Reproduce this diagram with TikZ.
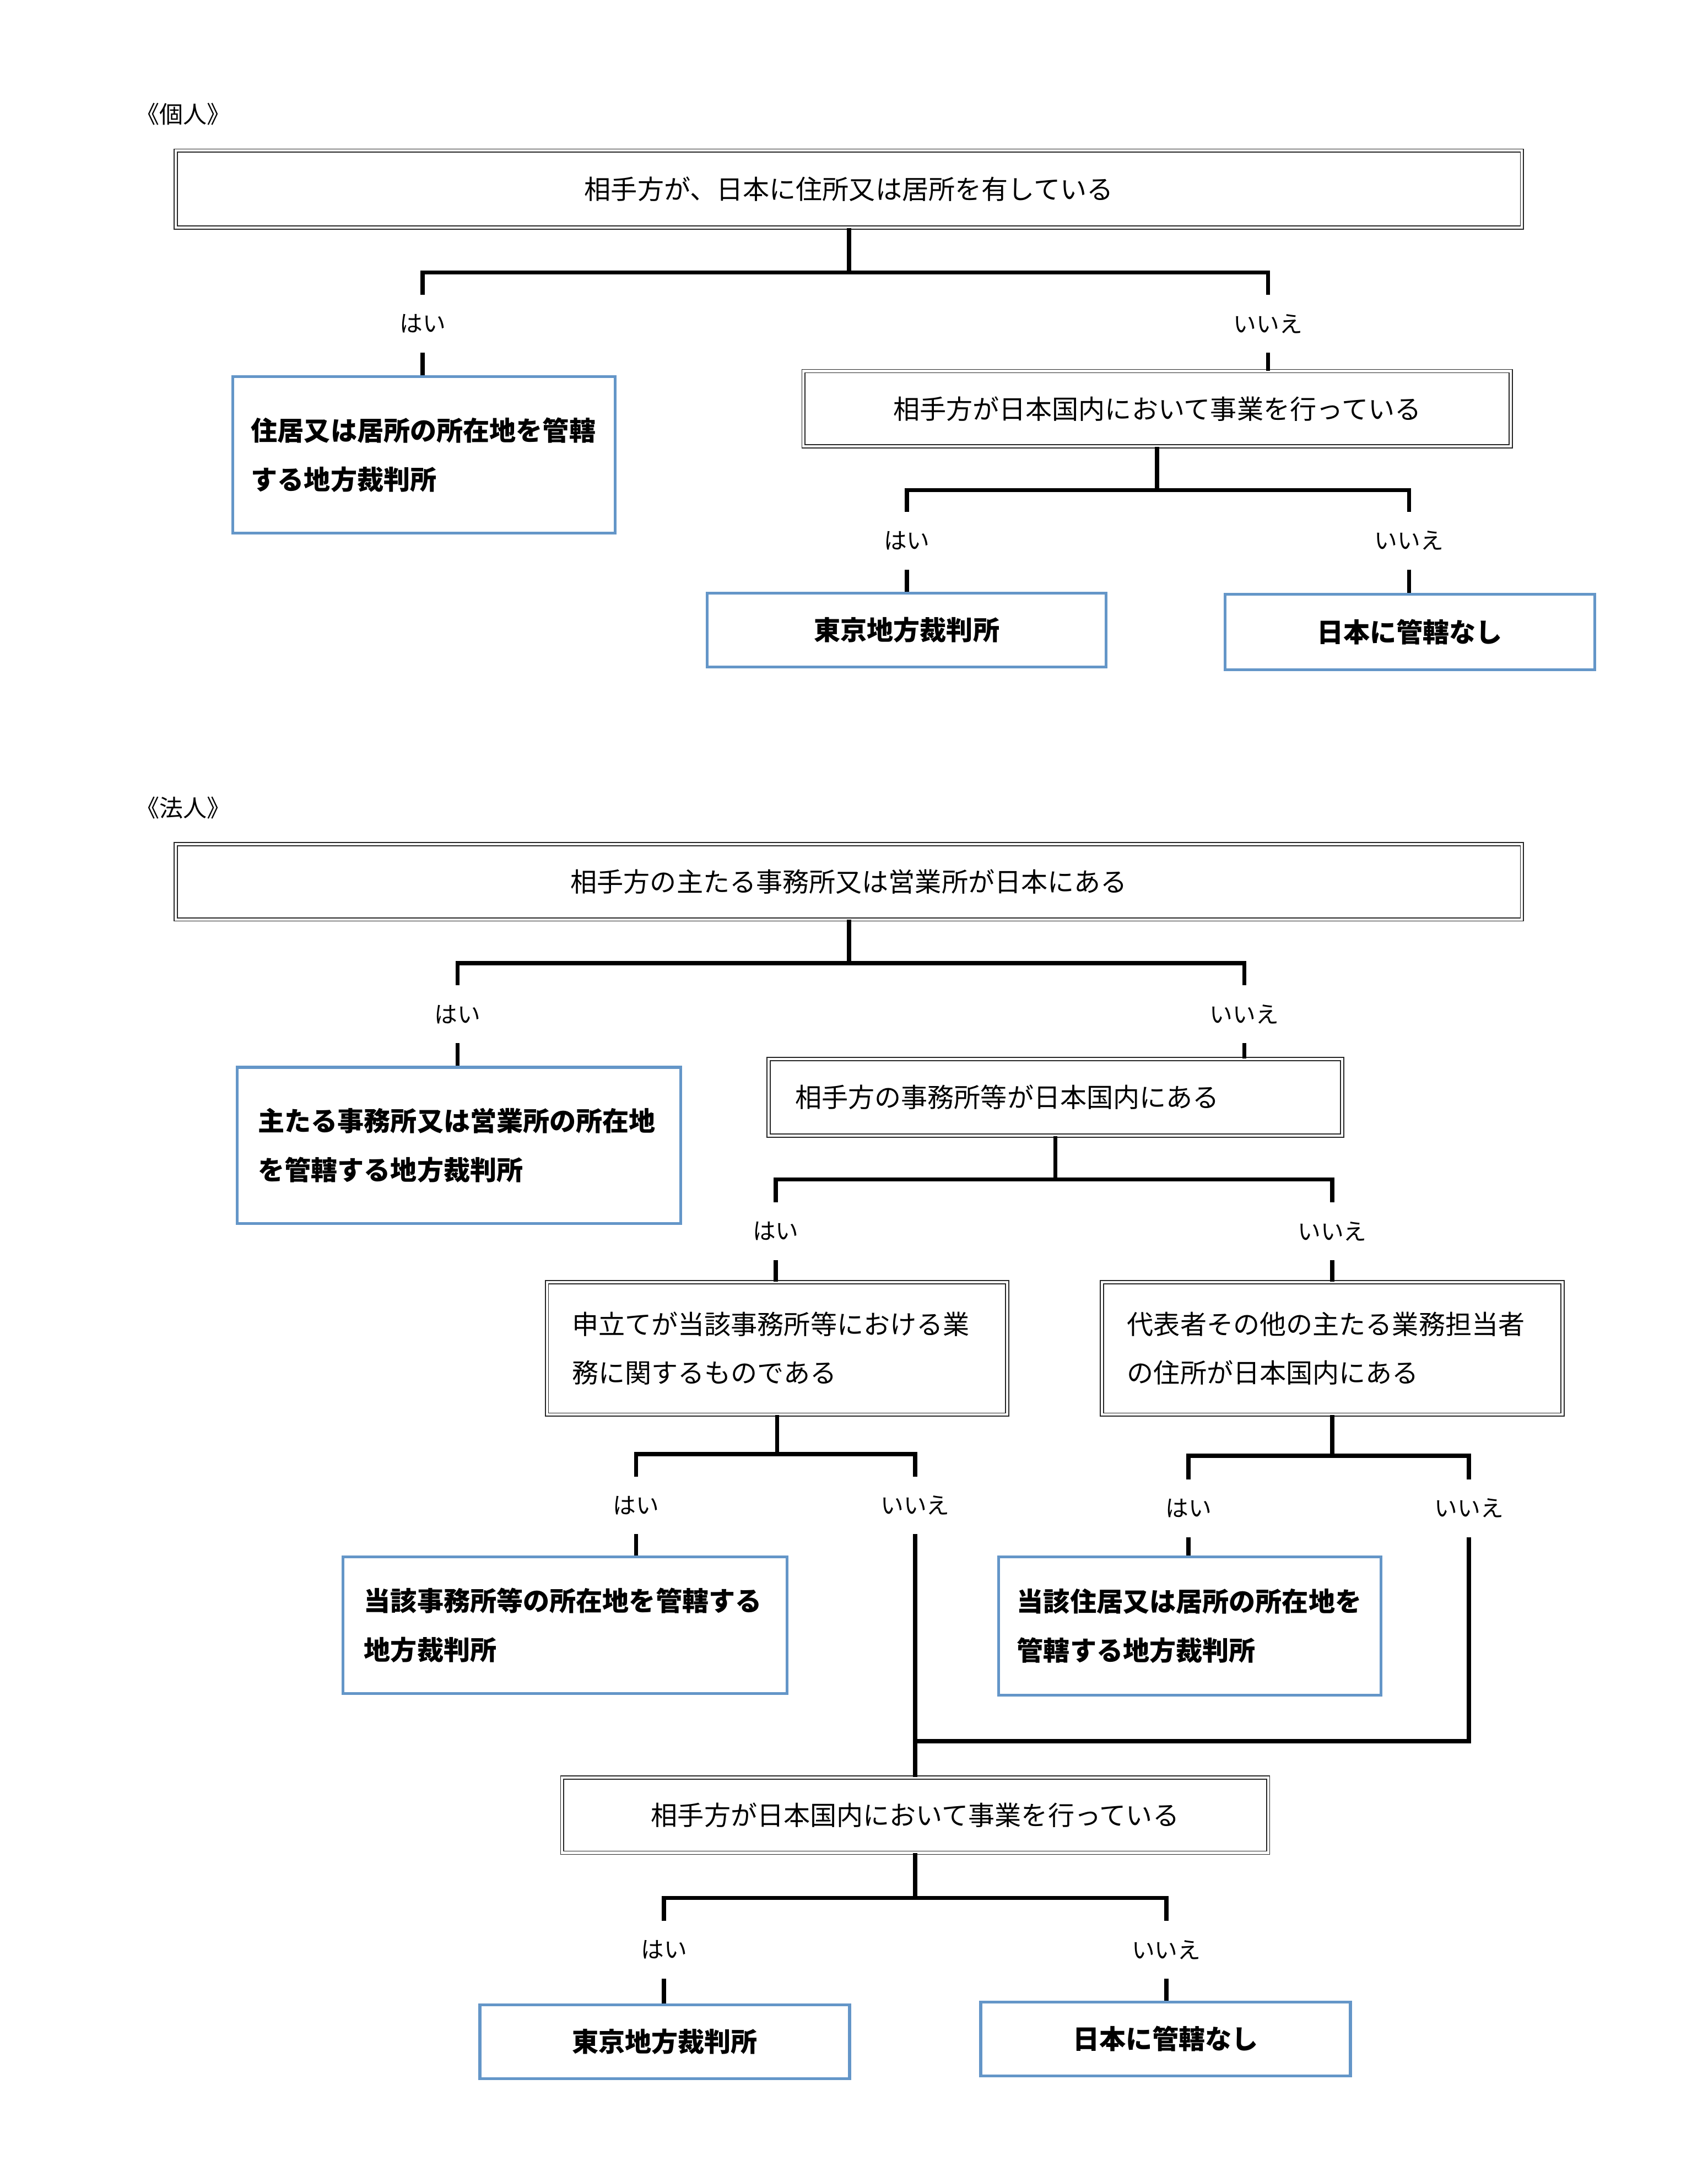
\documentclass[tikz,border=0pt]{standalone}
\usepackage{fontspec}
\setmainfont{Noto Sans CJK JP}
\usepackage{xcolor}
\usetikzlibrary{positioning}

\definecolor{boxblue}{RGB}{100,150,200}

\begin{document}
\begin{tikzpicture}[x=1pt, y=-1pt,
  ask/.style={draw=black!85, double, double distance=1.6pt, line width=0.7pt, inner sep=0pt,
    font=\fontsize{19}{35}\selectfont},
  court/.style={draw=boxblue, line width=2pt, inner sep=0pt,
    font=\fontsize{19}{35}\selectfont\bfseries},
  wh/.style 2 args={minimum width=#1pt, minimum height=#2pt},
  ans/.style={minimum height=41pt, inner sep=0pt, font=\fontsize{16.5}{20}\selectfont},
  head/.style={anchor=west, inner sep=0pt, font=\fontsize{17}{20}\selectfont},
  link/.style={line width=3pt}]
  \useasboundingbox (0,0) rectangle (1224,1564);

  % individual
  \node[head]                 (T1) at (97,82)        {《個人》};
  \node[ask,wh={965}{55}]     (Q1) at (608.5,135.5)  {相手方が、日本に住所又は居所を有している};
  \node[ans]                  (Y1) at (303,232)      {はい};
  \node[ans]                  (N1) at (909,232)      {いいえ};
  \node[court,wh={274}{112},align=left,inner xsep=13pt,text width=248pt]
                              (R1) at (304,326)      {住居又は居所の所在地を管轄\\する地方裁判所};
  \node[ask,wh={507}{54}]     (Q2) at (829.5,293)    {相手方が日本国内において事業を行っている};
  \node[ans]                  (Y2) at (650,387.5)    {はい};
  \node[ans]                  (N2) at (1010,387.5)   {いいえ};
  \node[court,wh={286}{53}]   (R2) at (650,451.5)    {東京地方裁判所};
  \node[court,wh={265}{54}]   (R3) at (1010.5,453)   {日本に管轄なし};

  % corporation
  \node[head]                 (T2) at (97,579)       {《法人》};
  \node[ask,wh={965}{54}]     (Q3) at (608.5,632)    {相手方の主たる事務所又は営業所が日本にある};
  \node[ans]                  (Y3) at (328,727)      {はい};
  \node[ans]                  (N3) at (892,727)      {いいえ};
  \node[court,wh={318}{112},align=left,inner xsep=15pt,text width=288pt]
                              (R4) at (329,821)      {主たる事務所又は営業所の所在地\\を管轄する地方裁判所};
  \node[ask,wh={411}{55},align=left,inner xsep=19pt,text width=373pt]
                              (Q4) at (756.5,786.5)  {相手方の事務所等が日本国内にある};
  \node[ans]                  (Y4) at (556,882.5)    {はい};
  \node[ans]                  (N4) at (955,882.5)    {いいえ};
  \node[ask,wh={330}{95},align=left,inner xsep=18pt,text width=294pt]
                              (Q5) at (557,966.5)    {申立てが当該事務所等における業\\務に関するものである};
  \node[ask,wh={330}{95},align=left,inner xsep=18pt,text width=294pt]
                              (Q6) at (955,966.5)    {代表者その他の主たる業務担当者\\の住所が日本国内にある};
  \node[ans]                  (Y5) at (456,1079)     {はい};
  \node[ans]                  (N5) at (656,1079)     {いいえ};
  \node[ans]                  (Y6) at (852,1081)     {はい};
  \node[ans]                  (N6) at (1053,1081)    {いいえ};
  \node[court,wh={318}{98},align=left,inner xsep=15pt,text width=288pt]
                              (R5) at (405,1165)     {当該事務所等の所在地を管轄する\\地方裁判所};
  \node[court,wh={274}{99},align=left,inner xsep=13pt,text width=248pt]
                              (R6) at (853,1165.5)   {当該住居又は居所の所在地を\\管轄する地方裁判所};
  \coordinate                 (M)  at (656,1248);
  \node[ask,wh={506}{54}]     (Q7) at (656,1301)     {相手方が日本国内において事業を行っている};
  \node[ans]                  (Y7) at (476,1397.5)   {はい};
  \node[ans]                  (N7) at (836,1397.5)   {いいえ};
  \node[court,wh={265}{53}]   (R7) at (476.5,1463.5) {東京地方裁判所};
  \node[court,wh={265}{53}]   (R8) at (835.5,1461.5) {日本に管轄なし};

  \draw[link] (Q1.south) -- ++(0,32) -| (Y1.north)  (Q1.south) ++(0,32) -| (N1.north);
  \draw[link] (Y1.south) -- (Y1.south |- R1.north);
  \draw[link] (N1.south) -- (N1.south |- Q2.north);
  \draw[link] (Q2.south) -- ++(0,31) -| (Y2.north)  (Q2.south) ++(0,31) -| (N2.north);
  \draw[link] (Y2.south) -- (Y2.south |- R2.north);
  \draw[link] (N2.south) -- (N2.south |- R3.north);

  \draw[link] (Q3.south) -- ++(0,31) -| (Y3.north)  (Q3.south) ++(0,31) -| (N3.north);
  \draw[link] (Y3.south) -- (Y3.south |- R4.north);
  \draw[link] (N3.south) -- (N3.south |- Q4.north);
  \draw[link] (Q4.south) -- ++(0,31) -| (Y4.north)  (Q4.south) ++(0,31) -| (N4.north);
  \draw[link] (Y4.south) -- (Y4.south |- Q5.north);
  \draw[link] (N4.south) -- (N4.south |- Q6.north);
  \draw[link] (Q5.south) -- ++(0,28) -| (Y5.north)  (Q5.south) ++(0,28) -| (N5.north);
  \draw[link] (Q6.south) -- ++(0,29) -| (Y6.north)  (Q6.south) ++(0,29) -| (N6.north);
  \draw[link] (Y5.south) -- (Y5.south |- R5.north);
  \draw[link] (Y6.south) -- (Y6.south |- R6.north);
  \draw[link] (N5.south) -- (Q7.north);
  \draw[link] (N6.south) |- (M);
  \draw[link] (Q7.south) -- ++(0,32) -| (Y7.north)  (Q7.south) ++(0,32) -| (N7.north);
  \draw[link] (Y7.south) -- (Y7.south |- R7.north);
  \draw[link] (N7.south) -- (N7.south |- R8.north);
\end{tikzpicture}
\end{document}
